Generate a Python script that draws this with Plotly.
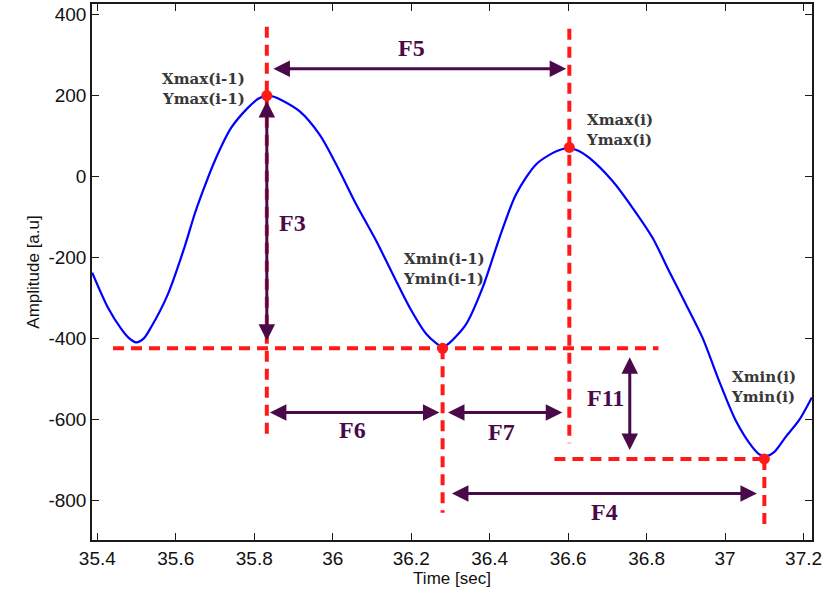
import plotly.graph_objects as go

# Signal segment: time [sec] and amplitude [a.u]
time = [35.387, 35.427, 35.461, 35.480, 35.499, 35.518, 35.537, 35.580, 35.622,
        35.648, 35.669, 35.699, 35.741, 35.783, 35.810, 35.832, 35.850, 35.865,
        35.916, 35.967, 36.009, 36.060, 36.111, 36.153, 36.196, 36.238, 36.262,
        36.280, 36.297, 36.340, 36.382, 36.425, 36.467, 36.518, 36.560, 36.582,
        36.603, 36.626, 36.654, 36.713, 36.764, 36.815, 36.857, 36.900, 36.942,
        36.984, 37.027, 37.069, 37.088, 37.105, 37.125, 37.154, 37.188, 37.221]
amplitude = [-237, -323, -376, -398, -409, -400, -372, -290, -175,
             -93, -36, 38, 120, 169, 192, 200, 197, 191,
             161, 103, 30, -69, -159, -241, -323, -388, -410,
             -420, -411, -364, -274, -151, -44, 30, 58, 67,
             70, 64, 46, -11, -77, -151, -233, -315, -397,
             -503, -602, -667, -686, -690, -680, -643, -602, -545]

# Extrema: previous max, previous min, current max, current min
ext_x = [35.832, 36.280, 36.603, 37.100]
ext_y = [200, -424, 72, -697]
ext_text = ["Xmax(i-1)<br>Ymax(i-1)", "Xmin(i-1)<br>Ymin(i-1)",
            "Xmax(i)<br>Ymax(i)", "Xmin(i)<br>Ymin(i)"]

x_ticks = [35.4, 35.6, 35.8, 36.0, 36.2, 36.4, 36.6, 36.8, 37.0, 37.2]
x_tick_text = ["35.4", "35.6", "35.8", "36", "36.2", "36.4", "36.6", "36.8", "37", "37.2"]
y_ticks = [400, 200, 0, -200, -400, -600, -800]
y_tick_text = ["400", "200", "0", "-200", "-400", "-600", "-800"]

RED = "#ff1a1a"
PURPLE = "#4a0a4a"
LABEL_GREY = "#383838"

fig = go.Figure()
fig.add_trace(go.Scatter(x=time, y=amplitude, mode="lines",
                         line=dict(color="#0000ff", width=2.2, shape="spline", smoothing=0.8),
                         hoverinfo="skip", showlegend=False))

# Red dashed guide lines through the extrema
dash = "11px,7px"
guides = [
    # (x0, y0, x1, y1)
    (ext_x[0], 370, ext_x[0], -646),
    (ext_x[1], ext_y[1], ext_x[1], -830),
    (ext_x[2], 365, ext_x[2], -658),
    (ext_x[3], ext_y[3], ext_x[3], -864),
    (35.44, ext_y[1], 36.83, ext_y[1]),
    (36.565, ext_y[3], ext_x[3], ext_y[3]),
]
for x0, y0, x1, y1 in guides:
    fig.add_shape(type="line", x0=x0, y0=y0, x1=x1, y1=y1, xref="x", yref="y",
                  line=dict(color=RED, width=4, dash=dash), layer="above")

fig.add_trace(go.Scatter(x=ext_x, y=ext_y, mode="markers",
                         marker=dict(color=RED, size=11),
                         hoverinfo="skip", showlegend=False))

# Double-headed feature arrows: (x_start, y_start, x_end, y_end)
arrows = {
    "F5": (35.845, 266, 36.595, 266),
    "F3": (ext_x[0], 190, ext_x[0], -405),
    "F6": (35.836, -582, 36.272, -582),
    "F7": (36.290, -582, 36.585, -582),
    "F11": (36.757, -442, 36.757, -675),
    "F4": (36.300, -782, 37.081, -782),
}
for name, (ax0, ay0, ax1, ay1) in arrows.items():
    fig.add_annotation(x=ax1, y=ay1, ax=ax0, ay=ay0, xref="x", yref="y",
                       axref="x", ayref="y", text="", showarrow=True,
                       arrowhead=2, startarrowhead=2, arrowside="end+start",
                       arrowsize=1.1, startarrowsize=1.1, arrowwidth=3,
                       arrowcolor=PURPLE, standoff=0, startstandoff=0)

# Feature names
feature_pos = {
    "F5": (36.201, 318),
    "F3": (35.898, -114),
    "F6": (36.050, -626),
    "F7": (36.429, -630),
    "F11": (36.694, -547),
    "F4": (36.692, -827),
}
for name, (fx, fy) in feature_pos.items():
    fig.add_annotation(x=fx, y=fy, xref="x", yref="y", text=f"<b>{name}</b>",
                       showarrow=False,
                       font=dict(family="Liberation Serif", size=24, color=PURPLE))

# Extremum labels
label_pos = [
    (35.781, 217, "right"),
    (36.175, -228, "left"),
    (36.641, 115, "left"),
    (37.010, -520, "left"),
]
for (lx, ly, anchor), txt in zip(label_pos, ext_text):
    fig.add_annotation(x=lx, y=ly, xref="x", yref="y", text=f"<b>{txt}</b>",
                       showarrow=False, xanchor=anchor, yanchor="middle", align=anchor,
                       font=dict(family="DejaVu Serif", size=15, color=LABEL_GREY))

axis_common = dict(showline=True, linecolor="#1a1a1a", linewidth=1.5, mirror="ticks",
                   ticks="inside", ticklen=7, tickwidth=1.3, tickcolor="#1a1a1a",
                   showgrid=False, zeroline=False,
                   tickfont=dict(family="Liberation Sans", size=19, color="#111111"))

fig.update_layout(
    width=826, height=604,
    margin=dict(l=92, r=14, t=2, b=64),
    paper_bgcolor="white", plot_bgcolor="white",
    xaxis=dict(range=[35.3865, 37.2214], tickvals=x_ticks, ticktext=x_tick_text,
               title=dict(text="Time [sec]", standoff=5,
                          font=dict(family="Liberation Sans", size=17, color="#111111")),
               **axis_common),
    yaxis=dict(range=[-897, 426], tickvals=y_ticks, ticktext=y_tick_text,
               title=dict(text="Amplitude [a.u]", standoff=4,
                          font=dict(family="Liberation Sans", size=17, color="#111111")),
               **axis_common),
)

fig.write_html("out.html")
